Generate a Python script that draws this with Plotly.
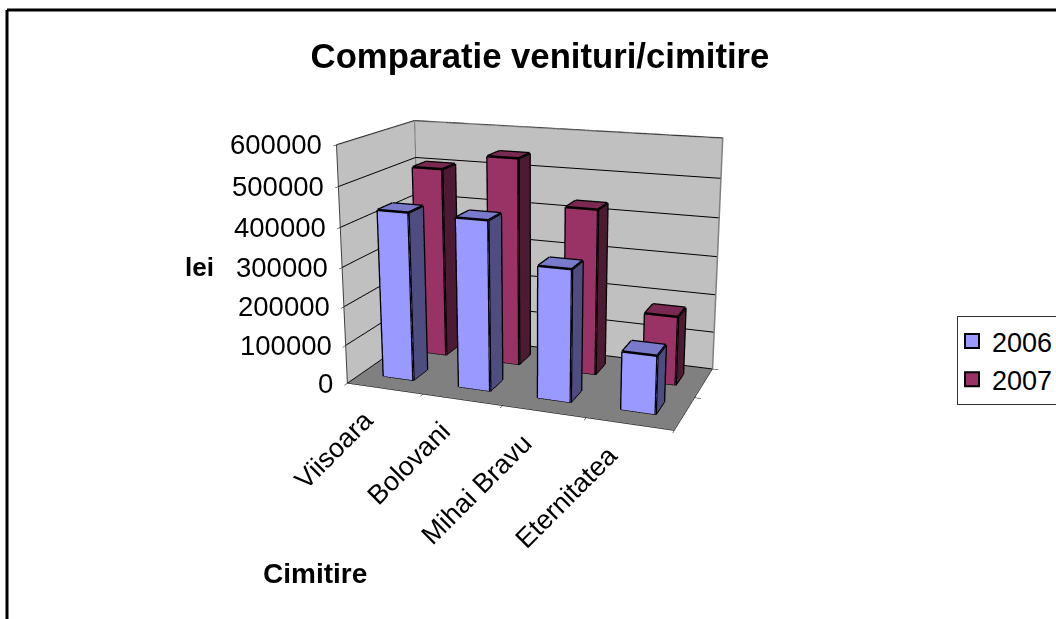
import plotly.graph_objects as go

categories = ["Viisoara", "Bolovani", "Mihai Bravu", "Eternitatea"]
series_names = ["2006", "2007"]
values_2006 = [432000, 430000, 331000, 145000]
values_2007 = [503000, 544000, 430000, 178000]
z_ticks = [0, 100000, 200000, 300000, 400000, 500000, 600000]
colors_front = ["#9999FF", "#993366"]
colors_side = ["#4D4D80", "#4D1A33"]
colors_top = ["#7A7ACC", "#7A2952"]

FONT = "Liberation Sans"
W, H = 1072, 950
TOP = 213  # the page is scrolled by this many pixels so the 3D viewport can be taller than the window
BAR_W = 0.40
BAR_D = 0.38
ROW_POS = [0.55, 1.5]
traces = []


def px(x):
    return x / W


def py(y):
    return 1 - (y + TOP) / H


def box(cat, row, val):
    x0, x1 = cat + 0.5 - BAR_W / 2, cat + 0.5 + BAR_W / 2
    y0, y1 = ROW_POS[row] - BAR_D / 2, ROW_POS[row] + BAR_D / 2
    xs = [x0, x1, x1, x0, x0, x1, x1, x0]
    ys = [y0, y0, y1, y1, y0, y0, y1, y1]
    zs = [0, 0, 0, 0, val, val, val, val]
    i = [0, 0, 1, 1, 4, 4, 3, 3, 0, 0, 2, 2]
    j = [1, 5, 2, 6, 5, 6, 2, 6, 4, 7, 1, 0]
    k = [5, 4, 6, 5, 6, 7, 6, 7, 7, 3, 0, 3]
    fc = [colors_front[row]] * 2 + [colors_side[row]] * 2 + [colors_top[row]] * 2 + \
         [colors_side[row]] * 2 + [colors_side[row]] * 2 + [colors_side[row]] * 2
    traces.append(go.Mesh3d(x=xs, y=ys, z=zs, i=i, j=j, k=k, facecolor=fc, flatshading=True,
                            lighting=dict(ambient=1, diffuse=0, specular=0, roughness=1, fresnel=0),
                            hoverinfo="skip", showlegend=False, showscale=False))
    ex, ey, ez = [], [], []
    for a, b in [(0, 1), (1, 2), (4, 5), (5, 6), (6, 7), (7, 4), (0, 4), (1, 5), (2, 6), (3, 7)]:
        ex += [xs[a], xs[b], None]
        ey += [ys[a], ys[b], None]
        ez += [zs[a], zs[b], None]
    traces.append(go.Scatter3d(x=ex, y=ey, z=ez, mode="lines", line=dict(color="black", width=5),
                               hoverinfo="skip", showlegend=False))


for c, v in enumerate(values_2006):
    box(c, 0, v)
for c, v in enumerate(values_2007):
    box(c, 1, v)

# grey outline of the walls
zmax = z_ticks[-1]
nc, ns = len(categories), len(series_names)
traces.append(go.Scatter3d(x=[0, 0, nc, nc, None, 0, 0], y=[0, ns, ns, ns, None, ns, ns],
                           z=[zmax, zmax, zmax, 0, None, 0, zmax], mode="lines",
                           line=dict(color="#808080", width=3), hoverinfo="skip", showlegend=False))

for n, col in zip(series_names, colors_front):
    traces.append(go.Scatter(x=[None], y=[None], mode="markers", name=n,
                             marker=dict(symbol="square", size=14, color=col, line=dict(color="black", width=2))))

fig = go.Figure(traces)

cat_annots = [dict(x=c + 0.5, y=0, z=0, text=t, showarrow=False, textangle=-45, xshift=-3, yshift=-13,
                   xanchor="right", yanchor="top", font=dict(family=FONT, size=27, color="black"))
              for c, t in enumerate(categories)]
z_annots = [dict(x=0, y=0, z=v, text=str(v), showarrow=False, xanchor="right", yanchor="middle", xshift=-12,
                 font=dict(family=FONT, size=27.5, color="black")) for v in z_ticks]

fig.update_layout(
    width=W, height=H, margin=dict(l=0, r=0, t=0, b=0),
    paper_bgcolor="white", plot_bgcolor="white",
    font=dict(family=FONT, color="black"),
    xaxis=dict(visible=False), yaxis=dict(visible=False),
    scene=dict(
        domain=dict(x=[px(105), px(961)], y=[0, 1]),
        aspectmode="manual", aspectratio=dict(x=1.0, y=0.5, z=0.72),
        camera=dict(projection=dict(type="perspective"),
                    eye=dict(x=1.14, y=-3.07, z=0.9), center=dict(x=0, y=0, z=0), up=dict(x=0, y=0, z=1)),
        xaxis=dict(range=[0, nc], showgrid=False, zeroline=False, showticklabels=False, title="",
                   showbackground=True, backgroundcolor="#C0C0C0", showline=True, linecolor="black",
                   tickvals=[1, 2, 3, 4], ticks="outside",
                   ticklen=5, tickcolor="black", showspikes=False),
        yaxis=dict(range=[0, ns], showgrid=False, zeroline=False, showticklabels=False, title="",
                   showbackground=True, backgroundcolor="#C0C0C0", showline=True, linecolor="black",
                   tickvals=[1, 2], ticks="outside",
                   ticklen=5, tickcolor="black", showspikes=False),
        zaxis=dict(range=[0, zmax], tickvals=z_ticks, showticklabels=False, showgrid=True, gridcolor="black", gridwidth=2,
                   zeroline=False, title="", showbackground=True, backgroundcolor="#808080", showline=True,
                   linecolor="#404040", linewidth=2, ticks="outside", ticklen=5, tickcolor="black",
                   showspikes=False),
        annotations=cat_annots + z_annots,
    ),
    legend=dict(x=px(957), y=py(316), yanchor="top", xanchor="left", bgcolor="white", bordercolor="#333333",
                borderwidth=1, indentation=-6, font=dict(family=FONT, size=27, color="black")),
    showlegend=True,
    title=dict(text="<b>Comparatie venituri/cimitire</b>", x=px(540), xanchor="center", y=py(56), yanchor="middle",
               font=dict(family=FONT, size=34.7, color="black")),
    annotations=[
        dict(text="<b>lei</b>", x=px(199), y=py(267), xref="paper", yref="paper", showarrow=False,
             xanchor="center", yanchor="middle", font=dict(family=FONT, size=26, color="black")),
        dict(text="<b>Cimitire</b>", x=px(315), y=py(573), xref="paper", yref="paper", showarrow=False,
             xanchor="center", yanchor="middle", font=dict(family=FONT, size=28, color="black")),
    ],
    shapes=[
        dict(type="line", xref="paper", yref="paper", x0=px(7), x1=1, y0=py(10), y1=py(10),
             line=dict(color="black", width=3)),
        dict(type="line", xref="paper", yref="paper", x0=px(7), x1=px(7), y0=py(640), y1=py(10),
             line=dict(color="black", width=3)),
    ],
)

fig.write_html("out.html", config=dict(displayModeBar=False),
               post_script=("document.body.style.margin='0';document.body.style.overflow='hidden';"
                            "document.documentElement.style.overflow='hidden';"
                            "document.querySelector('.plotly-graph-div').style.marginTop='-%dpx';" % TOP))
